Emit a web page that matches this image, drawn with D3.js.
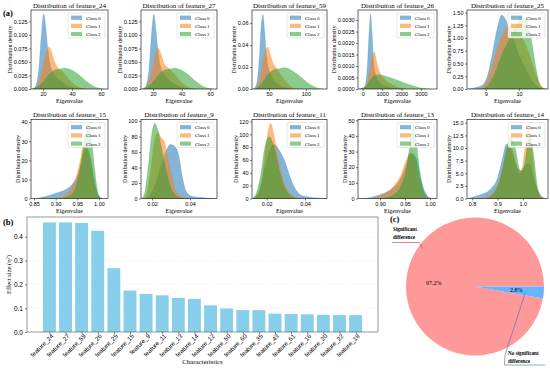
<!DOCTYPE html>
<html>
<head>
<meta charset="utf-8">
<script src="https://cdn.jsdelivr.net/npm/d3@7"></script>
<style>
body { margin: 0; background: #fff; }
svg { font-family: "Liberation Serif", "Times New Roman", serif; }
</style>
</head>
<body>
<svg id="chart" width="550" height="370"></svg>
<script>
// ---- data ----
var classNames = ["Class 0", "Class 1", "Class 2"];
var classColors = ["#1f77b4", "#ff7f0e", "#2ca02c"];

var panelFeatures = ["feature_24", "feature_27", "feature_59", "feature_26", "feature_25",
                     "feature_15", "feature_9", "feature_11", "feature_13", "feature_14"];
var panelXDomains = [[11.7, 64.8], [11.5, 64.8], [27, 128.6], [-242, 3824], [8.44, 10.87],
                     [0.843, 1.021], [0.0142, 0.0542], [0.0123, 0.0515], [0.856, 1.014], [0.78, 1.099]];
var panelYMax = [0.146, 0.146, 0.072, 0.00344, 1.55, 41.4, 102, 123, 50.5, 15.65];
var panelXTicks = [[20, 40, 60], [20, 40, 60], [50, 100], [0, 1000, 2000, 3000], [9, 10],
                   [0.85, 0.90, 0.95, 1.00], [0.02, 0.04], [0.02, 0.04], [0.90, 0.95, 1.00], [0.8, 0.9, 1.0]];
var panelYTicks = [[0, 0.025, 0.05, 0.075, 0.1, 0.125], [0, 0.025, 0.05, 0.075, 0.1, 0.125],
                   [0, 0.02, 0.04, 0.06], [0, 0.0005, 0.001, 0.0015, 0.002, 0.0025, 0.003],
                   [0, 0.25, 0.5, 0.75, 1, 1.25, 1.5], [0, 10, 20, 30, 40], [0, 20, 40, 60, 80, 100],
                   [0, 20, 40, 60, 80, 100, 120], [0, 10, 20, 30, 40, 50], [0, 2.5, 5, 7.5, 10, 12.5, 15]];
var panelXFormat = ["d", "d", "d", "d", "d", ".2f", ".2f", ".2f", ".2f", ".1f"];
var panelYFormat = [".3f", ".3f", ".2f", ".4f", ".2f", "d", "d", "d", "d", ".1f"];

// density curves: [eigenvalue, density] for class 0, 1, 2
var kde24 = [
  [[13,0],[15,0.006],[17,0.035],[18.8,0.1],[20.5,0.139],[22,0.112],[23.5,0.07],[25,0.045],[27,0.03],[30,0.02],[34,0.011],[38,0.005],[43,0.0015],[50,0]],
  [[13,0],[16,0.006],[19,0.03],[21.5,0.06],[24,0.078],[26,0.068],[28,0.05],[30,0.04],[33,0.033],[36,0.024],[40,0.012],[44,0.004],[49,0]],
  [[12,0],[16,0.004],[20,0.013],[24,0.027],[28,0.035],[31,0.037],[35,0.039],[39,0.036],[43,0.03],[47,0.021],[51,0.012],[55,0.005],[59,0.0012],[63,0]]
];
var kde27 = [
  [[13,0],[15,0.006],[17,0.035],[18.8,0.1],[20.5,0.138],[22,0.11],[23.5,0.068],[25,0.044],[27,0.03],[30,0.02],[34,0.011],[38,0.005],[43,0.0015],[50,0]],
  [[13,0],[16,0.007],[19,0.032],[21.5,0.062],[23.5,0.076],[25.5,0.066],[27.5,0.048],[30,0.04],[33,0.033],[36,0.024],[40,0.012],[44,0.004],[49,0]],
  [[12,0],[16,0.004],[20,0.013],[24,0.027],[28,0.035],[31,0.037],[35,0.039],[39,0.036],[43,0.03],[47,0.021],[51,0.012],[55,0.005],[59,0.0012],[63,0]]
];
var kde59 = [
  [[29,0],[33,0.004],[36.5,0.025],[39.5,0.058],[41.8,0.068],[44,0.054],[46.5,0.032],[49,0.02],[53,0.012],[58,0.007],[65,0.003],[75,0.001],[85,0]],
  [[31,0],[36,0.005],[41,0.022],[45,0.034],[48.5,0.0385],[52,0.031],[56,0.023],[60,0.019],[65,0.014],[71,0.008],[78,0.003],[86,0]],
  [[30,0],[37,0.003],[44,0.009],[51,0.015],[58,0.018],[64,0.0185],[71,0.0195],[78,0.018],[86,0.0145],[94,0.0105],[102,0.006],[110,0.0025],[118,0.0005],[124,0]]
];
var kde26 = [
  [[-150,0],[100,0.0001],[230,0.0009],[330,0.0025],[410,0.00328],[480,0.0025],[560,0.0013],[680,0.0006],[850,0.00032],[1100,0.00016],[1500,0.00006],[2000,0]],
  [[-100,0],[200,0.0002],[380,0.0009],[500,0.0014],[600,0.00162],[720,0.0012],[850,0.0008],[1000,0.00055],[1300,0.0003],[1700,0.00012],[2200,0]],
  [[-200,0],[150,0.0001],[400,0.0004],[650,0.0006],[900,0.00062],[1200,0.00056],[1600,0.00045],[2000,0.00032],[2400,0.0002],[2800,0.00009],[3200,0.00002],[3500,0]]
];
var kde25 = [
  [[8.45,0],[8.7,0.03],[8.9,0.08],[9.05,0.25],[9.2,0.7],[9.35,1.2],[9.48,1.45],[9.6,1.36],[9.75,1.1],[9.9,0.85],[10.05,0.6],[10.2,0.4],[10.35,0.2],[10.5,0.08],[10.7,0.01],[10.85,0]],
  [[8.7,0],[8.95,0.05],[9.1,0.25],[9.3,0.7],[9.5,1.05],[9.73,1.24],[9.9,1.15],[10.1,1.0],[10.3,0.7],[10.5,0.3],[10.65,0.08],[10.8,0]],
  [[8.9,0],[9.1,0.1],[9.3,0.35],[9.5,0.7],[9.7,0.95],[9.9,1.2],[10.05,1.42],[10.2,1.38],[10.35,1.05],[10.5,0.45],[10.62,0.1],[10.75,0]]
];
var kde15 = [
  [[0.855,0],[0.87,0.8],[0.89,2],[0.91,3.5],[0.925,5],[0.94,8],[0.952,13],[0.962,21],[0.971,26.5],[0.98,22],[0.99,9],[0.998,2],[1.008,0]],
  [[0.895,0],[0.915,1],[0.932,3.5],[0.946,10],[0.957,20],[0.966,28.5],[0.975,25],[0.984,13],[0.993,3],[1.003,0]],
  [[0.91,0],[0.93,1],[0.945,5],[0.956,15],[0.966,30],[0.975,39],[0.983,31],[0.99,16],[0.997,4],[1.004,0]]
];
var kde9 = [
  [[0.016,0],[0.019,5],[0.022,20],[0.025,45],[0.0275,62],[0.0297,70],[0.032,67],[0.034,57],[0.036,28],[0.038,9],[0.041,3],[0.046,1.5],[0.05,0.5],[0.053,0]],
  [[0.015,0],[0.017,5],[0.019,30],[0.021,70],[0.0232,85],[0.025,78],[0.0265,74],[0.028,57],[0.030,32],[0.032,13],[0.035,3],[0.04,0]],
  [[0.0145,0],[0.016,6],[0.018,42],[0.02,86],[0.0215,97],[0.023,89],[0.025,66],[0.027,41],[0.029,21],[0.031,8],[0.034,2],[0.038,0]]
];
var kde11 = [
  [[0.013,0],[0.016,10],[0.019,48],[0.022,78],[0.024,84],[0.027,73],[0.0295,58],[0.032,36],[0.035,15],[0.038,5],[0.043,2],[0.048,0.8],[0.052,0]],
  [[0.013,0],[0.015,5],[0.018,40],[0.02,92],[0.022,117],[0.024,95],[0.026,60],[0.028,35],[0.030,18],[0.033,5],[0.037,0]],
  [[0.012,0],[0.014,5],[0.017,40],[0.019,80],[0.0214,96],[0.023,88],[0.025,65],[0.027,40],[0.029,20],[0.032,6],[0.036,0]]
];
var kde13 = [
  [[0.865,0],[0.885,1],[0.905,3],[0.925,6.5],[0.94,12],[0.952,21],[0.962,29],[0.972,26],[0.982,12],[0.992,3],[1.003,0]],
  [[0.875,0],[0.895,1],[0.915,4],[0.93,9],[0.943,16],[0.953,25],[0.961,29],[0.969,24],[0.978,11],[0.988,2.5],[0.998,0]],
  [[0.905,0],[0.925,2],[0.94,7],[0.952,18],[0.96,35],[0.966,48],[0.972,38],[0.98,17],[0.988,4],[0.998,0]]
];
var kde14 = [
  [[0.785,0],[0.815,0.5],[0.845,1],[0.875,2],[0.9,4],[0.92,8],[0.935,10.8],[0.95,10],[0.97,7],[0.99,5],[1.008,6.5],[1.025,7],[1.045,3.5],[1.065,1],[1.09,0]],
  [[0.83,0],[0.865,0.5],[0.895,2],[0.922,6],[0.943,10.5],[0.96,9.5],[0.978,6.2],[0.995,5.5],[1.008,10],[1.02,14.9],[1.033,11],[1.048,4],[1.065,0.8],[1.08,0]],
  [[0.855,0],[0.885,1],[0.912,4],[0.933,9],[0.952,12.3],[0.97,10],[0.99,5.5],[1.005,6.5],[1.018,10.5],[1.03,12.5],[1.043,8.5],[1.057,2.5],[1.072,0]]
];
var panelCurves = [kde24, kde27, kde59, kde26, kde25, kde15, kde9, kde11, kde13, kde14];

// effect sizes (b)
var barFeatures = ["feature_24", "feature_27", "feature_59", "feature_26", "feature_25", "feature_15", "feature_9",
                   "feature_11", "feature_13", "feature_14", "feature_12", "feature_50", "feature_60", "feature_35",
                   "feature_43", "feature_61", "feature_16", "feature_20", "feature_22", "feature_18"];
var barValues = [0.460, 0.460, 0.458, 0.425, 0.268, 0.174, 0.160, 0.154, 0.143, 0.139,
                 0.112, 0.099, 0.092, 0.092, 0.077, 0.076, 0.074, 0.072, 0.071, 0.071];
var barTicks = [0, 0.1, 0.2, 0.3, 0.4];

// pie (c)
var pieLabels = ["Significant difference", "No significant difference"];
var pieValues = [97.2, 2.8];
var pieColors = ["#ff9999", "#66b3ff"];

// ---- layout ----
var colLeft = [31, 141, 252, 358, 467];
var colRight = [108, 217, 327, 437, 548];
var rowTop = [10, 119.5];
var rowBottom = [89, 198.5];

var svg = d3.select("#chart");

function styleAxis(sel, size) {
    sel.select(".domain").remove();
    sel.selectAll("line").attr("stroke", "#000").attr("stroke-width", 0.5);
    sel.selectAll("text").attr("font-family", null).attr("font-size", size).attr("fill", "#000");
}

/**
 * One density panel of (a).
 */
function drawPanel(i) {
    var col = i % 5, row = Math.floor(i / 5);
    var left = colLeft[col], right = colRight[col], top = rowTop[row], bottom = rowBottom[row];
    var x = d3.scaleLinear().domain(panelXDomains[i]).range([left, right]);
    var y = d3.scaleLinear().domain([0, panelYMax[i]]).range([bottom, top]);
    var g = svg.append("g");

    g.append("clipPath").attr("id", "clip" + i)
        .append("rect").attr("x", left).attr("y", top)
        .attr("width", right - left).attr("height", bottom - top);

    var area = d3.area()
        .x(function (d) { return x(d[0]); })
        .y0(y(0))
        .y1(function (d) { return y(d[1]); })
        .curve(d3.curveMonotoneX);

    panelCurves[i].forEach(function (pts, c) {
        g.append("path").datum(pts)
            .attr("d", area)
            .attr("fill", classColors[c])
            .attr("fill-opacity", 0.55)
            .attr("stroke", classColors[c])
            .attr("stroke-opacity", 0.35)
            .attr("stroke-width", 0.4)
            .attr("clip-path", "url(#clip" + i + ")");
    });

    g.append("g").attr("transform", "translate(0," + bottom + ")")
        .call(d3.axisBottom(x).tickValues(panelXTicks[i]).tickFormat(d3.format(panelXFormat[i]))
            .tickSize(2).tickSizeOuter(0).tickPadding(1.5))
        .call(styleAxis, 5.5);

    var yAxis = g.append("g").attr("transform", "translate(" + left + ",0)")
        .call(d3.axisLeft(y).tickValues(panelYTicks[i]).tickFormat(d3.format(panelYFormat[i]))
            .tickSize(2).tickSizeOuter(0).tickPadding(1.5))
        .call(styleAxis, 5.5);

    g.append("rect").attr("x", left).attr("y", top)
        .attr("width", right - left).attr("height", bottom - top)
        .attr("fill", "none").attr("stroke", "#000").attr("stroke-width", 0.6);

    g.append("text").attr("x", (left + right) / 2).attr("y", top - 2.5)
        .attr("text-anchor", "middle").attr("font-size", 7)
        .text("Distribution of " + panelFeatures[i]);

    g.append("text").attr("x", (left + right) / 2).attr("y", bottom + 14)
        .attr("text-anchor", "middle").attr("font-size", 6)
        .text("Eigenvalue");

    // y label sits just left of the tick labels
    var tickBox = yAxis.node().getBBox();
    g.append("text")
        .attr("transform", "translate(" + (left + tickBox.x - 1.5) + "," + ((top + bottom) / 2) + ") rotate(-90)")
        .attr("text-anchor", "middle").attr("font-size", 6)
        .text("Distribution density");

    // legend
    var lw = 37, lh = 25;
    var lg = g.append("g").attr("transform", "translate(" + (right - lw - 3) + "," + (top + 3) + ")");
    lg.append("rect").attr("width", lw).attr("height", lh).attr("rx", 1.5)
        .attr("fill", "#fff").attr("fill-opacity", 0.8)
        .attr("stroke", "#d0d0d0").attr("stroke-width", 0.5);
    classNames.forEach(function (name, c) {
        lg.append("rect").attr("x", 3).attr("y", 2.6 + c * 8.2).attr("width", 11).attr("height", 4.2)
            .attr("fill", classColors[c]).attr("fill-opacity", 0.55);
        lg.append("text").attr("x", 18).attr("y", 6.6 + c * 8.2)
            .attr("font-size", 5).text(name);
    });
}

d3.range(10).forEach(drawPanel);

svg.append("text").attr("x", 3).attr("y", 16).attr("font-size", 8.5).attr("font-weight", "bold").text("(a)");

// ---- (b) bar chart ----
var barLeft = 27, barRight = 378, barTop = 217, barBottom = 332;
var bx = d3.scaleLinear().domain([-1.39, barValues.length - 1 + 1.39]).range([barLeft, barRight]);
var by = d3.scaleLinear().domain([0, 0.483]).range([barBottom, barTop]);
var gb = svg.append("g");

gb.selectAll(".grid").data(barTicks.slice(1)).enter().append("line")
    .attr("x1", barLeft).attr("x2", barRight)
    .attr("y1", function (d) { return by(d); }).attr("y2", function (d) { return by(d); })
    .attr("stroke", "#e6e6e6").attr("stroke-width", 0.5).attr("stroke-dasharray", "2,1.5");

gb.selectAll(".bar").data(barValues).enter().append("rect")
    .attr("x", function (d, i) { return bx(i - 0.4); })
    .attr("y", function (d) { return by(d); })
    .attr("width", bx(0.8) - bx(0))
    .attr("height", function (d) { return barBottom - by(d); })
    .attr("fill", "#87ceeb");

gb.append("g").attr("transform", "translate(0," + barBottom + ")")
    .call(d3.axisBottom(bx).tickValues(d3.range(barFeatures.length))
        .tickFormat(function (i) { return barFeatures[i]; })
        .tickSize(2).tickSizeOuter(0))
    .call(styleAxis, 6.2)
    .selectAll("text")
    .attr("text-anchor", "end")
    .attr("transform", "translate(2.5,3) rotate(-45)")
    .attr("dy", "0.35em").attr("y", 0);

gb.append("g").attr("transform", "translate(" + barLeft + ",0)")
    .call(d3.axisLeft(by).tickValues(barTicks).tickFormat(d3.format(".1f"))
        .tickSize(2).tickSizeOuter(0).tickPadding(2))
    .call(styleAxis, 6.5);

gb.append("rect").attr("x", barLeft).attr("y", barTop)
    .attr("width", barRight - barLeft).attr("height", barBottom - barTop)
    .attr("fill", "none").attr("stroke", "#555").attr("stroke-width", 0.6);

var yl = gb.append("text")
    .attr("transform", "translate(11," + ((barTop + barBottom) / 2) + ") rotate(-90)")
    .attr("text-anchor", "middle").attr("font-size", 6.5);
yl.append("tspan").text("Effect size (η");
yl.append("tspan").attr("font-size", 4.5).attr("dy", -2.5).text("2");
yl.append("tspan").attr("dy", 2.5).text(")");

gb.append("text").attr("x", (barLeft + barRight) / 2).attr("y", 364)
    .attr("text-anchor", "middle").attr("font-size", 6.8).text("Characteristics");

svg.append("text").attr("x", 3).attr("y", 225).attr("font-size", 8.5).attr("font-weight", "bold").text("(b)");

// ---- (c) pie ----
var cx = 475, cy = 286.5, r = 69;
var pie = d3.pie().sort(null).startAngle(Math.PI / 2).endAngle(Math.PI / 2 - 2 * Math.PI);
var arcs = pie(pieValues);
var arc = d3.arc().innerRadius(0).outerRadius(r);
var labelArc = d3.arc().innerRadius(r * 0.6).outerRadius(r * 0.6);
var gp = svg.append("g").attr("transform", "translate(" + cx + "," + cy + ")");

gp.selectAll("path").data(arcs).enter().append("path")
    .attr("d", arc)
    .attr("fill", function (d, i) { return pieColors[i]; });

gp.selectAll(".pct").data(arcs).enter().append("text")
    .attr("transform", function (d) { return "translate(" + labelArc.centroid(d) + ")"; })
    .attr("text-anchor", "middle").attr("dy", "0.35em").attr("font-size", 6)
    .text(function (d, i) { return d3.format(".1f")(pieValues[i]) + "%"; });

// annotation lines
svg.append("polyline")
    .attr("points", "392,242.5 419.5,242.5 422.5,248.5")
    .attr("fill", "none").attr("stroke", "#e03030").attr("stroke-width", 0.6);
svg.append("polyline")
    .attr("points", "525,293.5 505,355 504.5,365 545,365")
    .attr("fill", "none").attr("stroke", "#3a6fb8").attr("stroke-width", 0.6);

var sig = svg.append("text").attr("x", 393).attr("y", 231).attr("font-size", 5.2).attr("font-weight", "bold");
sig.append("tspan").attr("x", 393).text("Significant");
sig.append("tspan").attr("x", 393).attr("dy", 7.5).text("difference");

var nsig = svg.append("text").attr("x", 508).attr("y", 355).attr("font-size", 5.2).attr("font-weight", "bold");
nsig.append("tspan").attr("x", 508).text("No significant");
nsig.append("tspan").attr("x", 508).attr("dy", 7.5).text("difference");

svg.append("text").attr("x", 390).attr("y", 222).attr("font-size", 8.5).attr("font-weight", "bold").text("(c)");
</script>
</body>
</html>
